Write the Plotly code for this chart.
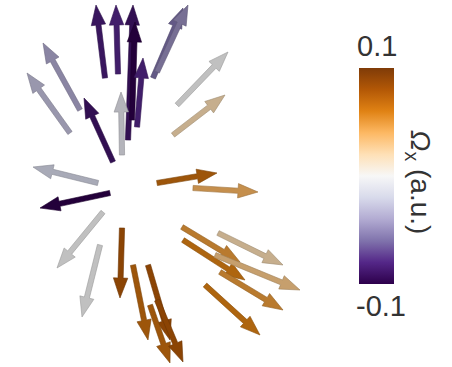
import math
import plotly.graph_objects as go
from plotly.colors import sample_colorscale, unlabel_rgb

# Arrow tails and heads (arbitrary spatial units) and Omega_x values (a.u.)
x_tail = [-3.0, -1.7, -0.7, -0.3, 0.2, -1.3, 1.8, 2.2, -5.5, -6.5, -2.2, 4.2, 3.8,
          2.2, 5.8, -3.7, -2.5, -3.2, -3.5, -1.3, -0.2, 1.3, 1.5, 2.2,
          4.7, 8.3, 4.8, 8.0, 8.5, 7.0]
y_tail = [10.7, 11.1, 4.5, 6.5, 5.8, 3.0, 10.7, 11.3, 7.5, 5.2, 2.3, 8.0, 5.0,
          0.2, -0.3, 0.2, -0.8, -2.7, -6.0, -4.3, -8.0, -8.0, -12.0, -11.5,
          -4.2, -4.8, -5.5, -7.0, -8.7, -10.0]
x_head = [-3.9, -1.9, -0.2, 0.0, 0.8, -1.4, 4.8, 5.3, -9.2, -10.8, -5.1, 9.3, 9.0,
          8.2, 12.3, -10.2, -9.5, -7.8, -5.3, -1.5, 1.3, 3.5, 3.5, 4.8,
          10.5, 14.8, 11.0, 16.5, 14.8, 12.5]
y_head = [18.0, 18.0, 18.0, 16.3, 12.7, 9.3, 17.7, 18.0, 14.2, 11.2, 8.7, 13.3, 9.0,
          1.2, -0.7, 1.8, -2.3, -8.3, -13.2, -11.3, -15.5, -15.5, -17.8, -17.7,
          -7.7, -8.0, -9.5, -10.5, -12.5, -15.0]
omega_x = [-0.085, -0.08, -0.09, -0.1, -0.08, -0.01, -0.06, -0.05, -0.04, -0.03, -0.09,
           0.0, 0.02, 0.07, 0.04, -0.02, -0.1, 0.0, 0.0, 0.08, 0.07, 0.08, 0.07, 0.08,
           0.05, 0.02, 0.06, 0.03, 0.05, 0.06]

cmin, cmax = -0.1, 0.1
cbar_ticks = ["0.1", "-0.1"]
cbar_title = "<i>Ω</i><sub>x</sub> (a.u.)"
cscale = "PuOr_r"

SHAFT = 0.26
HEAD_W = 0.72
HEAD_L = 2.0
SHADE = 0.78


def arrow_polygon(x0, y0, x1, y1):
    dx, dy = x1 - x0, y1 - y0
    L = math.hypot(dx, dy)
    ux, uy = dx / L, dy / L
    px, py = -uy, ux
    bx, by = x1 - ux * HEAD_L, y1 - uy * HEAD_L
    pts = [
        (x0 + px * SHAFT, y0 + py * SHAFT),
        (bx + px * SHAFT, by + py * SHAFT),
        (bx + px * HEAD_W, by + py * HEAD_W),
        (x1, y1),
        (bx - px * HEAD_W, by - py * HEAD_W),
        (bx - px * SHAFT, by - py * SHAFT),
        (x0 - px * SHAFT, y0 - py * SHAFT),
        (x0 + px * SHAFT, y0 + py * SHAFT),
    ]
    return [p[0] for p in pts], [p[1] for p in pts]


def shaded(val, k):
    c = sample_colorscale(cscale, [(val - cmin) / (cmax - cmin)])[0]
    r, g, b = unlabel_rgb(c)
    return "rgb(%d,%d,%d)" % (r * k, g * k, b * k)


fig = go.Figure()
for x0, y0, x1, y1, w in zip(x_tail, y_tail, x_head, y_head, omega_x):
    xs, ys = arrow_polygon(x0, y0, x1, y1)
    fig.add_trace(go.Scatter(
        x=xs, y=ys, mode="lines", fill="toself",
        fillcolor=shaded(w, SHADE),
        line=dict(color=shaded(w, SHADE * 0.8), width=0.6),
        hoverinfo="skip", showlegend=False))

# colorbar carrier
fig.add_trace(go.Scatter(
    x=[x_tail[0]], y=[y_tail[0]], mode="markers",
    marker=dict(size=0.1, opacity=0, color=[omega_x[0]], colorscale=cscale,
                cmin=cmin, cmax=cmax, showscale=True,
                colorbar=dict(x=0.794, xanchor="left", xpad=0, ypad=0,
                              y=0.520, yanchor="middle", len=0.589, lenmode="fraction",
                              thickness=35, thicknessmode="pixels",
                              outlinewidth=0, showticklabels=False, ticks="")),
    hoverinfo="skip", showlegend=False))

font = dict(family="Liberation Sans, Arial, sans-serif", color="#333333")
fig.add_annotation(xref="paper", yref="paper", x=0.834, y=0.875, text=cbar_ticks[0],
                   xanchor="center", yanchor="middle",
                   showarrow=False, font=dict(size=29, **font))
fig.add_annotation(xref="paper", yref="paper", x=0.843, y=0.166, text=cbar_ticks[1],
                   xanchor="center", yanchor="middle",
                   showarrow=False, font=dict(size=29, **font))
fig.add_annotation(xref="paper", yref="paper", x=0.926, y=0.505, text=cbar_title,
                   xanchor="center", yanchor="middle",
                   textangle=90, showarrow=False, font=dict(size=28, **font))

fig.update_layout(
    width=452, height=367, margin=dict(l=0, r=0, t=0, b=0),
    paper_bgcolor="white", plot_bgcolor="white",
    xaxis=dict(range=[-13.5, 31.7], visible=False, fixedrange=True),
    yaxis=dict(range=[-18.2, 18.5], visible=False, fixedrange=True),
)

fig.write_html("out.html", config={"displayModeBar": False},
               post_script="document.body.style.margin='0';document.body.style.overflow='hidden';")
